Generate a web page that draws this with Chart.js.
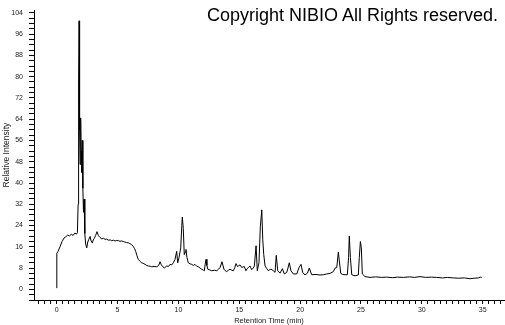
<!DOCTYPE html>
<html lang="en">
<head>
    <meta charset="UTF-8">
    <title>Chromatogram</title>
    <script src="https://cdn.jsdelivr.net/npm/chart.js"></script>
    <style>
        body {
            margin: 0;
            padding: 0;
            background-color: #fff;
        }
        .wrap {
            position: relative;
            width: 505px;
            height: 325px;
        }
        .copyright {
            position: absolute;
            left: 207px;
            top: 6px;
            font-family: 'Liberation Sans', Arial, sans-serif;
            font-size: 18px;
            line-height: 18px;
            color: #000;
            white-space: nowrap;
        }
    </style>
</head>
<body>
    <div class="wrap">
        <canvas id="chrom" width="505" height="325"></canvas>
        <div class="copyright">Copyright NIBIO All Rights reserved.</div>
    </div>

    <script>
        // retention time (min) and relative intensity
        const retentionTime = [
            0, 0.01, 0.1, 0.27, 0.44, 0.6, 0.75, 0.9, 1.05, 1.2, 1.35, 1.5, 1.62, 1.7,
            1.76, 1.8, 1.84, 1.88, 1.92, 1.97, 2.01, 2.05, 2.1, 2.15, 2.2, 2.25, 2.31, 2.38,
            2.47, 2.55, 2.62, 2.74, 2.83, 2.93, 3.0, 3.09, 3.2, 3.31, 3.43, 3.56, 3.7, 3.85,
            3.97, 4.1, 4.25, 4.4, 4.52, 4.65, 4.8, 4.93, 5.06, 5.2, 5.33, 5.47, 5.6, 5.75,
            5.9, 6.02, 6.15, 6.29, 6.4, 6.49, 6.6, 6.7, 6.85, 6.98, 7.1, 7.26, 7.4, 7.53,
            7.68, 7.81, 8.0, 8.22, 8.38, 8.49, 8.6, 8.68, 8.84, 9.04, 9.18, 9.31, 9.45, 9.58,
            9.72, 9.86, 9.94, 10.05, 10.19, 10.28, 10.32, 10.4, 10.48, 10.55, 10.62, 10.7, 10.81, 10.95,
            11.09, 11.22, 11.36, 11.5, 11.64, 11.78, 11.91, 12.05, 12.13, 12.2, 12.27, 12.34, 12.41, 12.58,
            12.74, 12.95, 13.15, 13.3, 13.42, 13.58, 13.74, 13.85, 13.97, 14.1, 14.24, 14.38, 14.51, 14.62,
            14.73, 14.85, 14.92, 15.06, 15.2, 15.3, 15.41, 15.55, 15.65, 15.74, 15.88, 16.02, 16.14, 16.24,
            16.38, 16.48, 16.62, 16.73, 16.85, 16.93, 17.01, 17.12, 17.26, 17.39, 17.5, 17.61, 17.8, 17.94,
            18.04, 18.16, 18.35, 18.54, 18.7, 18.9, 19.0, 19.11, 19.25, 19.44, 19.72, 19.91, 20.07, 20.21,
            20.4, 20.6, 20.75, 20.95, 21.3, 21.64, 21.9, 22.19, 22.46, 22.73, 22.87, 23.01, 23.14, 23.22,
            23.34, 23.5, 23.69, 23.88, 23.98, 24.04, 24.13, 24.24, 24.51, 24.78, 24.86, 24.95, 25.03, 25.11,
            25.33, 25.74, 26.2, 26.7, 27.1, 27.6, 28.0, 28.5, 29.0, 29.4, 29.85, 30.3, 30.8, 31.2,
            31.7, 32.1, 32.6, 33.0, 33.5, 33.96, 34.3, 34.64, 34.8, 34.92
        ];
        const relIntensity = [
            0.5, 13.6, 14.2, 16, 18, 19.3, 19.8, 20.4, 20.1, 20.7, 20.3, 21.2, 20.8, 21.3,
            32, 78, 101, 60, 47, 64.5, 52, 44, 56, 38, 29, 34, 21, 17,
            15.6, 17.8, 18.6, 19.9, 18.2, 17.4, 18.6, 19.2, 20.3, 21.7, 20.2, 19.5, 19.0, 19.2,
            18.8, 18.9, 18.5, 18.6, 18.3, 18.5, 18.2, 18.4, 18.3, 18.1, 18.2, 18.0, 17.8, 17.6,
            17.5, 17.2, 16.8, 16.2, 15.3, 14.3, 12.6, 11.3, 10.5, 10.0, 9.8, 9.4, 9.0, 8.8,
            8.7, 8.5, 8.6, 8.5, 9.0, 10.4, 9.2, 8.8, 8.0, 8.8, 8.6, 9.4, 9.2, 10.0,
            11.3, 14.3, 10.0, 11.9, 15.6, 24, 27.2, 22.9, 13.1, 14, 15, 12, 10.0, 9.6,
            9.4, 9.0, 9.4, 8.7, 8.5, 8.0, 7.6, 7.2, 7.0, 9.5, 11.3, 9.0, 7.6, 7.3,
            7.0, 7.2, 7.0, 7.6, 8.2, 10.4, 7.6, 7.0, 6.7, 7.2, 7.6, 7.2, 7.0, 8.0,
            9.7, 8.6, 8.8, 9.2, 8.2, 8.4, 8.6, 7.0, 7.8, 8.2, 8.8, 7.4, 8.0, 8.8,
            16.4, 7.0, 10.0, 23.5, 29.9, 18.6, 13.1, 8.8, 7.8, 7.0, 7.4, 7.6, 7.0, 6.4,
            12.8, 7.0, 6.1, 7.8, 5.8, 6.4, 8.0, 10.0, 7.0, 5.8, 5.8, 8.2, 9.4, 6.4,
            5.4, 6.1, 8.0, 5.5, 5.6, 5.4, 5.5, 5.8, 6.0, 6.7, 8.0, 8.2, 14.0, 10.7,
            6.0, 5.6, 5.5, 5.5, 12, 20.1, 11.9, 5.5, 5.1, 5.4, 11.9, 18, 15.6, 5.8,
            4.8, 4.5, 4.7, 4.5, 4.6, 4.4, 4.6, 4.5, 4.7, 4.5, 4.8, 4.5, 4.6, 4.5,
            4.3, 4.5, 4.3, 4.2, 4.3, 4.0, 4.2, 4.3, 4.6, 4.5
        ];

        // axis ticks: minor marks every 0.5 min / 2 units, labels every 5 min / 8 units
        const xLabelStep = 5;
        const yLabelStep = 8;

        const points = retentionTime.map((t, i) => ({ x: t, y: relIntensity[i] }));
        const smallFont = { family: "'Liberation Sans', Arial, sans-serif", size: 7 };

        const ctx = document.getElementById('chrom').getContext('2d');
        const chart = new Chart(ctx, {
            type: 'line',
            data: {
                datasets: [{
                    data: points,
                    borderColor: '#000',
                    borderWidth: 1,
                    pointRadius: 0,
                    tension: 0,
                    fill: false
                }]
            },
            options: {
                responsive: false,
                animation: false,
                layout: { padding: { top: 3, right: 1, left: 0, bottom: 0 } },
                plugins: {
                    legend: { display: false },
                    tooltip: { enabled: false }
                },
                scales: {
                    x: {
                        type: 'linear',
                        min: -1.865,
                        max: 36.75,
                        afterFit: function(scale) { scale.height = 25; },
                        border: { display: true, color: '#000', width: 1 },
                        grid: { drawOnChartArea: false, drawTicks: true, tickLength: 4, color: '#000' },
                        ticks: {
                            stepSize: 0.5,
                            includeBounds: false,
                            autoSkip: false,
                            maxRotation: 0,
                            padding: 2,
                            color: '#222',
                            font: smallFont,
                            callback: function(v) {
                                return Math.abs(v % xLabelStep) < 1e-9 ? v : '';
                            }
                        },
                        title: {
                            display: true,
                            text: 'Retention Time (min)',
                            color: '#222',
                            font: { family: "'Liberation Sans', Arial, sans-serif", size: 7.5 },
                            padding: { top: 0, bottom: 0 }
                        }
                    },
                    y: {
                        min: -4,
                        max: 105,
                        afterFit: function(scale) { scale.width = 34; },
                        border: { display: true, color: '#000', width: 1 },
                        grid: { drawOnChartArea: false, drawTicks: true, tickLength: 5, color: '#000' },
                        ticks: {
                            stepSize: 2,
                            includeBounds: false,
                            autoSkip: false,
                            padding: 6,
                            color: '#222',
                            font: smallFont,
                            callback: function(v) {
                                return (v >= 0 && v % yLabelStep === 0) ? v : '';
                            }
                        },
                        title: {
                            display: true,
                            text: 'Relative Intensity',
                            color: '#222',
                            font: { family: "'Liberation Sans', Arial, sans-serif", size: 8.5 },
                            padding: { top: 2, bottom: 0 }
                        }
                    }
                }
            }
        });
    </script>
</body>
</html>
